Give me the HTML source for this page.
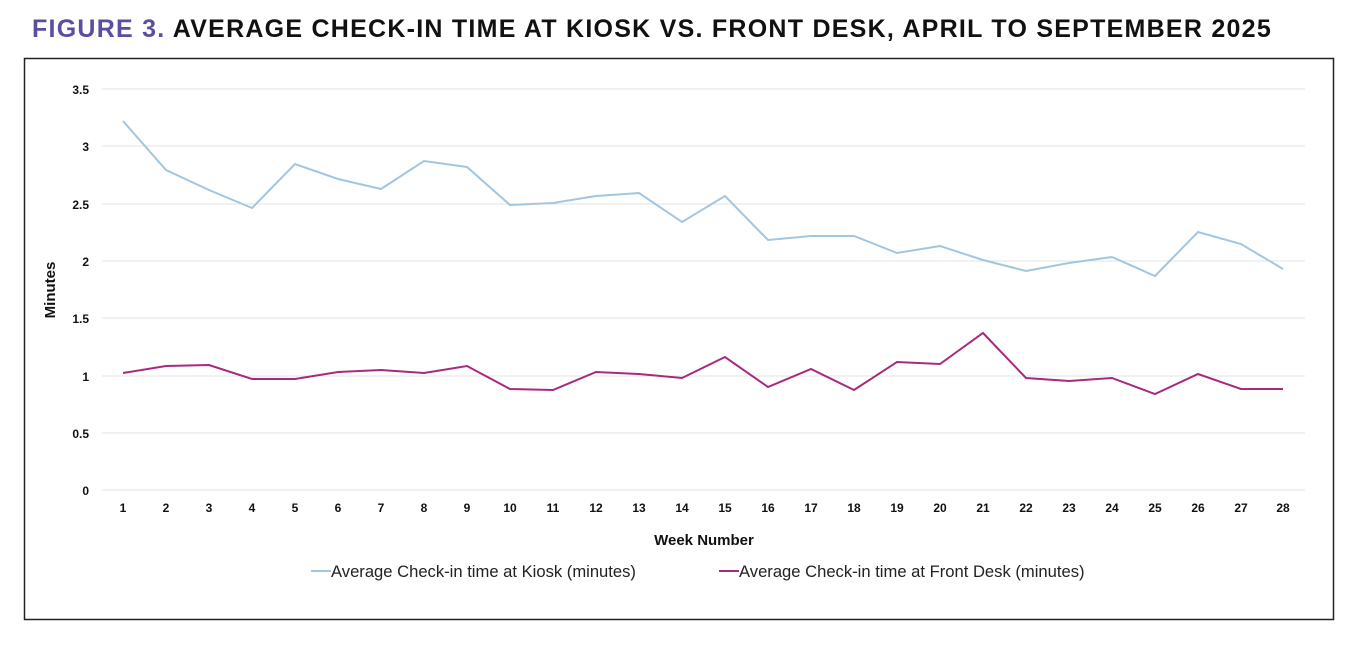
<!DOCTYPE html>
<html><head><meta charset="utf-8"><style>
body{margin:0;background:#fff;width:1350px;height:650px;overflow:hidden;font-family:"Liberation Sans",sans-serif}
</style></head><body>
<svg width="1350" height="650" xmlns="http://www.w3.org/2000/svg" font-family="Liberation Sans, sans-serif">
<text x="32" y="37" font-size="25" font-weight="bold" fill="#111" letter-spacing="1.25"><tspan fill="#5a4ea2">FIGURE 3.</tspan> AVERAGE CHECK-IN TIME AT KIOSK VS. FRONT DESK, APRIL TO SEPTEMBER 2025</text>
<rect x="24.5" y="58.5" width="1309" height="561" fill="none" stroke="#222" stroke-width="1.5"/>
<g stroke="#e3e3e3" stroke-width="1">
<line x1="102" x2="1305" y1="89" y2="89"/><line x1="102" x2="1305" y1="146" y2="146"/><line x1="102" x2="1305" y1="204" y2="204"/><line x1="102" x2="1305" y1="261" y2="261"/><line x1="102" x2="1305" y1="318" y2="318"/><line x1="102" x2="1305" y1="376" y2="376"/><line x1="102" x2="1305" y1="433" y2="433"/><line x1="102" x2="1305" y1="490" y2="490"/>
</g>
<g font-size="12" font-weight="bold" fill="#111" text-anchor="end">
<text x="89" y="94">3.5</text><text x="89" y="151">3</text><text x="89" y="209">2.5</text><text x="89" y="266">2</text><text x="89" y="323">1.5</text><text x="89" y="381">1</text><text x="89" y="438">0.5</text><text x="89" y="495">0</text>
</g>
<g font-size="12" font-weight="bold" fill="#111" text-anchor="middle">
<text x="123" y="512">1</text><text x="166" y="512">2</text><text x="209" y="512">3</text><text x="252" y="512">4</text><text x="295" y="512">5</text><text x="338" y="512">6</text><text x="381" y="512">7</text><text x="424" y="512">8</text><text x="467" y="512">9</text><text x="510" y="512">10</text><text x="553" y="512">11</text><text x="596" y="512">12</text><text x="639" y="512">13</text><text x="682" y="512">14</text><text x="725" y="512">15</text><text x="768" y="512">16</text><text x="811" y="512">17</text><text x="854" y="512">18</text><text x="897" y="512">19</text><text x="940" y="512">20</text><text x="983" y="512">21</text><text x="1026" y="512">22</text><text x="1069" y="512">23</text><text x="1112" y="512">24</text><text x="1155" y="512">25</text><text x="1198" y="512">26</text><text x="1241" y="512">27</text><text x="1283" y="512">28</text>
<text x="704" y="545" font-size="15">Week Number</text>
<text transform="translate(55,290) rotate(-90)" font-size="15">Minutes</text>
</g>
<polyline fill="none" stroke="#a3c6e0" stroke-width="2" points="123,121 166,170 209,190 252,208 295,164 338,179 381,189 424,161 467,167 510,205 553,203 596,196 639,193 682,222 725,196 768,240 811,236 854,236 897,253 940,246 983,260 1026,271 1069,263 1112,257 1155,276 1198,232 1241,244 1283,269"/>
<polyline fill="none" stroke="#a82a7c" stroke-width="2" points="123,373 166,366 209,365 252,379 295,379 338,372 381,370 424,373 467,366 510,389 553,390 596,372 639,374 682,378 725,357 768,387 811,369 854,390 897,362 940,364 983,333 1026,378 1069,381 1112,378 1155,394 1198,374 1241,389 1283,389"/>
<line x1="311" x2="331" y1="571" y2="571" stroke="#a3c6e0" stroke-width="2"/>
<text x="331" y="577" font-size="16.6" fill="#222">Average Check-in time at Kiosk (minutes)</text>
<line x1="719" x2="739" y1="571" y2="571" stroke="#a82a7c" stroke-width="2"/>
<text x="739" y="577" font-size="16.6" fill="#222">Average Check-in time at Front Desk (minutes)</text>
</svg>
</body></html>
